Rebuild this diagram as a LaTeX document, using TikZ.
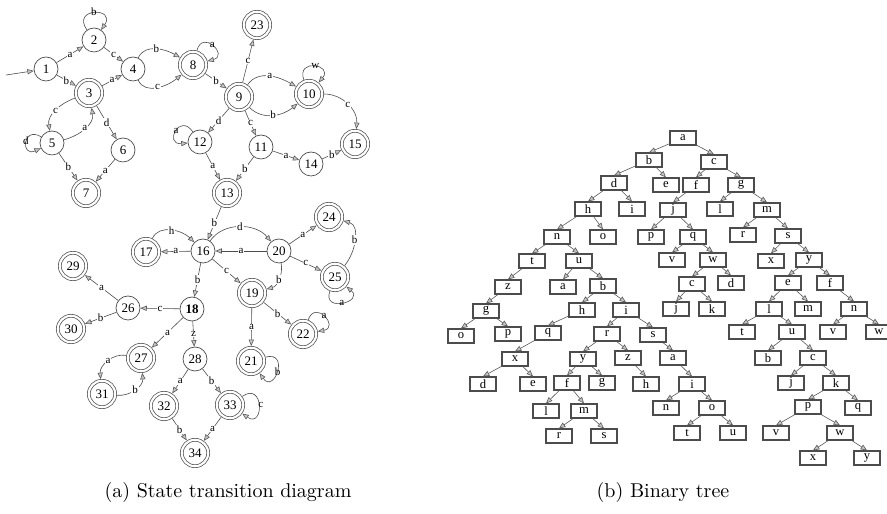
\documentclass[tikz,border=0pt]{standalone}
\usepackage{fontspec}
\newfontfamily\tms{Liberation Serif}
\usetikzlibrary{arrows.meta}
\begin{document}
\begin{tikzpicture}[x=0.5pt,y=0.5pt,
  >={Triangle[length=3.2pt,width=2.6pt,fill=gray!45,color=gray!70!black,line width=0.3pt]},
  st/.style={circle, draw=black!70, line width=0.35pt, minimum size=12pt, inner sep=0pt, font=\tms\fontsize{6.5}{7}\selectfont},
  acc/.style={st, double, double distance=1.1pt, minimum size=13.2pt, outer sep=0.9pt},
  e/.style={->, draw=black!70, line width=0.3pt},
  lbl/.style={font=\tms\fontsize{5.5}{6}\selectfont, inner sep=0.4pt, fill=white},
  ll/.style={font=\tms\fontsize{5.5}{6}\selectfont, inner sep=0.6pt},
  tn/.style={rectangle, draw=black!70, line width=1pt, fill=white, minimum width=12.6pt, minimum height=6.6pt, inner sep=0pt, font=\tms\fontsize{6.3}{6.5}\selectfont},
  te/.style={->, draw=black!65, line width=0.3pt}
]
\useasboundingbox (0,0) rectangle (887,513);
% ---------- state transition diagram ----------
\node[st] (n1) at (46,444) {1};
\node[st] (n2) at (94,473) {2};
\node[st] (n4) at (133,444) {4};
\node[acc] (n3) at (89,420) {3};
\node[acc] (n8) at (193,448) {8};
\node[st] (n5) at (52,370) {5};
\node[st] (n6) at (123,363) {6};
\node[acc] (n7) at (86,320) {7};
\node[st] (n12) at (200,371) {12};
\node[acc] (n23) at (257,488) {23};
\node[acc] (n9) at (239,416) {9};
\node[acc] (n10) at (309,419) {10};
\node[acc] (n15) at (355,369) {15};
\node[st] (n11) at (261,366) {11};
\node[st] (n14) at (311,349) {14};
\node[acc] (n13) at (227,320) {13};
\node[st] (n16) at (203,262) {16};
\node[st] (n20) at (279,262) {20};
\node[acc] (n24) at (329,296) {24};
\node[acc] (n25) at (335,236) {25};
\node[acc] (n19) at (252,220) {19};
\node[st] (n18) at (192,204) {\bfseries 18};
\node[acc] (n17) at (146,261) {17};
\node[acc] (n29) at (73,247) {29};
\node[st] (n26) at (128,205) {26};
\node[acc] (n30) at (71,184) {30};
\node[acc] (n27) at (141,155) {27};
\node[st] (n28) at (195,154) {28};
\node[acc] (n31) at (102,119) {31};
\node[acc] (n32) at (164,107) {32};
\node[acc] (n34) at (195,60) {34};
\node[acc] (n33) at (230,108) {33};
\node[acc] (n21) at (251,152) {21};
\node[acc] (n22) at (303,179) {22};
\coordinate (s0) at (6,438);

\draw[e] (s0) -- (n1);
\draw[e] (n1) -- node[lbl]{a} (n2);
\draw[e] (n2) to[out=125,in=55,looseness=5] node[ll,above left=-2pt]{b} (n2);
\draw[e] (n2) -- node[lbl]{c} (n4);
\draw[e] (n1) -- node[lbl]{b} (n3);
\draw[e] (n3) -- node[lbl]{a} (n4);
\draw[e] (n4) to[out=65,in=150] node[lbl]{b} (n8);
\draw[e] (n4) to[out=-65,in=-140] node[lbl]{c} (n8);
\draw[e] (n8) to[out=75,in=15,looseness=3.8] node[ll,above right=-2pt]{a} (n8);
\draw[e] (n8) -- node[lbl]{b} (n9);
\draw[e] (n3) to[out=200,in=100] node[lbl]{c} (n5);
\draw[e] (n5) to[out=15,in=-80] node[lbl]{a} (n3);
\draw[e] (n5) to[out=150,in=205,looseness=5] node[ll,above left=-2pt]{d} (n5);
\draw[e] (n3) -- node[lbl]{d} (n6);
\draw[e] (n5) -- node[lbl]{b} (n7);
\draw[e] (n6) -- node[lbl]{a} (n7);
\draw[e] (n9) -- node[lbl]{c} (n23);
\draw[e] (n9) to[out=55,in=150] node[lbl]{a} (n10);
\draw[e] (n9) to[out=-45,in=-140] node[lbl]{b} (n10);
\draw[e] (n10) to[out=110,in=50,looseness=4] node[ll,above right=-2pt]{w} (n10);
\draw[e] (n10) to[out=0,in=85] node[lbl]{c} (n15);
\draw[e] (n9) -- node[lbl]{d} (n12);
\draw[e] (n12) to[out=125,in=185,looseness=5] node[ll,above left=-2pt]{a} (n12);
\draw[e] (n9) -- node[lbl]{c} (n11);
\draw[e] (n11) -- node[lbl]{a} (n14);
\draw[e] (n14) -- node[lbl]{b} (n15);
\draw[e] (n12) -- node[lbl]{a} (n13);
\draw[e] (n11) -- node[lbl]{b} (n13);
\draw[e] (n13) -- node[lbl]{b} (n16);
\draw[e] (n16) -- node[lbl]{a} (n17);
\draw[e] (n17) to[out=65,in=135] node[lbl]{h} (n16);
\draw[e] (n16) to[out=55,in=130] node[lbl]{d} (n20);
\draw[e] (n20) -- node[lbl]{a} (n16);
\draw[e] (n20) -- node[lbl]{a} (n24);
\draw[e] (n20) -- node[lbl]{c} (n25);
\draw[e] (n25) to[out=50,in=-15] node[lbl]{b} (n24);
\draw[e] (n25) to[out=-110,in=-40,looseness=3.5] node[ll,below right=-2pt]{a} (n25);
\draw[e] (n20) to[out=-80,in=15] node[lbl]{b} (n19);
\draw[e] (n16) -- node[lbl]{c} (n19);
\draw[e] (n16) -- node[lbl]{b} (n18);
\draw[e] (n18) -- node[lbl]{c} (n26);
\draw[e] (n26) -- node[lbl]{a} (n29);
\draw[e] (n26) -- node[lbl]{b} (n30);
\draw[e] (n18) -- node[lbl]{a} (n27);
\draw[e] (n18) -- node[lbl]{z} (n28);
\draw[e] (n27) to[out=170,in=95] node[lbl]{a} (n31);
\draw[e] (n31) to[out=-5,in=-85] node[lbl]{b} (n27);
\draw[e] (n28) -- node[lbl]{a} (n32);
\draw[e] (n28) -- node[lbl]{b} (n33);
\draw[e] (n32) -- node[lbl]{b} (n34);
\draw[e] (n33) -- node[lbl]{a} (n34);
\draw[e] (n33) to[out=35,in=-35,looseness=4] node[ll,right=-1pt]{c} (n33);
\draw[e] (n19) -- node[lbl]{a} (n21);
\draw[e] (n19) -- node[lbl]{b} (n22);
\draw[e] (n22) to[out=70,in=10,looseness=3.8] node[ll,above right=-2pt]{a} (n22);
\draw[e] (n21) to[out=15,in=-55,looseness=3.8] node[ll,below right=-2pt]{b} (n21);

% ---------- binary tree ----------
\foreach \n/\x/\y/\t in {Ta/683/375/a, Tb/649/353/b, Tc/714/351/c, Td/614/330/d, Te/666/328/e,
  Tf/696/328/f, Tg/741/328/g, Th/588/304/h, Ti/632/304/i, Tj/673/303/j, Tl/720/304/l,
  Tm/767/303/m, Tn/557/276/n, To/603/276/o, Tp/651/276/p, Tq/693/276/q, Tr/743/278/r,
  Ts/788/277/s, Tt/532/252/t, Tu/579/252/u, Tv/672/253/v, Tw/713/253/w, Tx/771/252/x,
  Ty/809/253/y, Tz/508/226/z, Ua/563/226/a, Ub/603/227/b, Uc/692/229/c, Ud/731/230/d,
  Ue/788/230/e, Uf/830/230/f, Ug/486/202/g, Uh/582/203/h, Ui/626/203/i, Uj/676/204/j,
  Uk/712/204/k, Ul/769/204/l, Um/808/204/m, Un/854/204/n, Uo/461/177/o, Up/508/179/p,
  Uq/548/180/q, Ur/607/179/r, Us/653/178/s, Ut/742/181/t, Uu/792/181/u, Uv/833/181/v,
  Uw/879/181/w, Ux/515/154/x, Uy/583/154/y, Uz/628/155/z, Va/673/155/a, Vb/768/155/b,
  Vc/813/155/c, Vd/483/129/d, Ve/533/129/e, Vf/567/130/f, Vg/602/130/g, Vh/646/129/h,
  Vi/692/129/i, Vj/791/130/j, Vk/836/130/k, Vl/546/102/l, Vm/584/102/m, Vn/666/105/n,
  Vo/712/105/o, Vp/808/106/p, Vq/858/105/q, Vr/559/77/r, Vs/604/77/s, Vt/687/80/t,
  Vu/733/80/u, Vv/776/80/v, Vw/840/80/w, Vx/813/55/x, Vy/867/55/y}
  \node[tn] (\n) at (\x,\y) {\t};
\foreach \p/\c in {Ta/Tb, Ta/Tc, Tb/Td, Tb/Te, Tc/Tf, Tc/Tg, Td/Th, Td/Ti, Tf/Tj, Tg/Tl,
  Tg/Tm, Th/Tn, Th/To, Tj/Tp, Tj/Tq, Tm/Tr, Tm/Ts, Tn/Tt, Tn/Tu, Tq/Tv, Tq/Tw, Ts/Tx,
  Ts/Ty, Tt/Tz, Tu/Ua, Tu/Ub, Tw/Uc, Tw/Ud, Ty/Ue, Ty/Uf, Tz/Ug, Ub/Uh, Ub/Ui, Uc/Uj,
  Uc/Uk, Ue/Ul, Ue/Um, Uf/Un, Ug/Uo, Ug/Up, Uh/Uq, Ui/Ur, Ui/Us, Ul/Ut, Ul/Uu, Un/Uv,
  Un/Uw, Uq/Ux, Ur/Uy, Ur/Uz, Us/Va, Uu/Vb, Uu/Vc, Ux/Vd, Ux/Ve, Uy/Vf, Uy/Vg, Uz/Vh,
  Va/Vi, Vc/Vj, Vc/Vk, Vf/Vl, Vf/Vm, Vi/Vn, Vi/Vo, Vk/Vp, Vk/Vq, Vm/Vr, Vm/Vs, Vo/Vt,
  Vo/Vu, Vp/Vv, Vp/Vw, Vw/Vx, Vw/Vy}
  \draw[te] (\p) -- (\c.north);

% ---------- captions ----------
\node (capa) at (228,21) {(a) State transition diagram};
\node (capb) at (663,21) {(b) Binary tree};
\end{tikzpicture}
\end{document}
